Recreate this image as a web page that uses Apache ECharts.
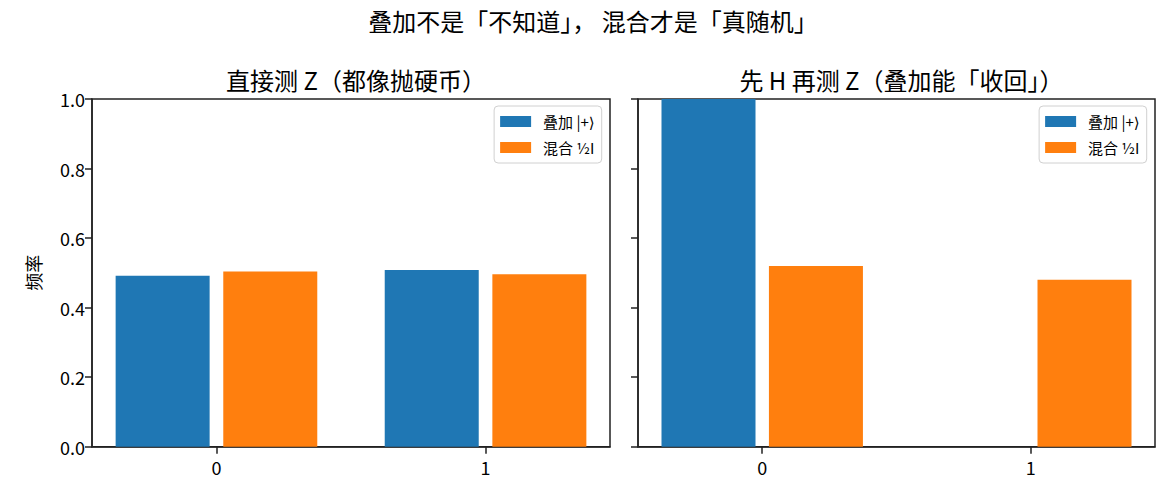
<!DOCTYPE html>
<html>
<head>
<meta charset="utf-8">
<script src="https://cdn.jsdelivr.net/npm/echarts@6/dist/echarts.min.js"></script>
<style>
  html, body { margin: 0; padding: 0; background: #fff; }
  #main { width: 1176px; height: 504px; }
</style>
</head>
<body>
<div id="main"></div>
<script>
// 数据：测量结果 0 / 1 的频率
var categories = ['0', '1'];
var seriesNames = ['叠加 |+⟩', '混合 ½I'];
var directSuper = [0.492, 0.508];   // 直接测 Z，叠加态
var directMixed = [0.504, 0.496];   // 直接测 Z，混合态
var hSuper = [1.0, 0.0];            // 先 H 再测 Z，叠加态
var hMixed = [0.52, 0.48];          // 先 H 再测 Z，混合态

var blue = '#1f77b4';
var orange = '#ff7f0e';
var axisColor = '#222';
var fontFamily = '"Noto Sans CJK SC", "DejaVu Sans", sans-serif';

window.addEventListener('load', function() {
  var chart = echarts.init(document.getElementById('main'), null, { renderer: 'svg' });

  // 柱子位置：类别下标左右各偏 0.2
  function toBars(values, shift) {
    return values.map(function(v, i) { return [i + shift, v]; });
  }

  function xAxisOf(gridIndex) {
    return {
      type: 'value',
      gridIndex: gridIndex,
      min: -0.4625,
      max: 1.4625,
      axisLine: { show: true, onZero: false, lineStyle: { color: axisColor, width: 1.5 } },
      axisTick: { show: true, length: 7, customValues: [0, 1], lineStyle: { color: axisColor, width: 1.5 } },
      axisLabel: {
        customValues: [0, 1],
        margin: 11,
        color: '#000',
        fontSize: 18,
        fontFamily: fontFamily,
        formatter: function(v) { return categories[Math.round(v)]; }
      },
      splitLine: { show: false }
    };
  }

  function yAxisOf(gridIndex, showLabel) {
    var axis = {
      type: 'value',
      gridIndex: gridIndex,
      min: 0,
      max: 1,
      interval: 0.2,
      axisLine: { show: true, onZero: false, lineStyle: { color: axisColor, width: 1.5 } },
      axisTick: { show: true, length: 7, lineStyle: { color: axisColor, width: 1.5 } },
      axisLabel: {
        show: showLabel,
        margin: 7,
        color: '#000',
        fontSize: 18,
        fontFamily: fontFamily,
        formatter: function(v) { return v.toFixed(1); }
      },
      splitLine: { show: false }
    };
    if (showLabel) {
      axis.name = '频率';
      axis.nameLocation = 'middle';
      axis.nameRotate = 90;
      axis.nameGap = 50;
      axis.nameTextStyle = { color: '#000', fontSize: 18, fontFamily: fontFamily };
    }
    return axis;
  }

  function legendOf(right) {
    return {
      orient: 'vertical',
      right: right,
      top: 106,
      data: seriesNames,
      icon: 'rect',
      itemWidth: 31,
      itemHeight: 11,
      itemGap: 11,
      padding: [8, 7, 8, 6],
      backgroundColor: 'rgba(255,255,255,0.8)',
      borderColor: '#d0d0d0',
      borderWidth: 1,
      borderRadius: 4,
      selectedMode: false,
      textStyle: {
        color: '#000',
        fontSize: 15,
        lineHeight: 14,
        fontFamily: fontFamily,
        padding: [0, 0, 0, 7]
      }
    };
  }

  function barSeries(name, values, shift, color, idx) {
    return {
      type: 'bar',
      name: name,
      xAxisIndex: idx,
      yAxisIndex: idx,
      data: toBars(values, shift),
      barWidth: 94,
      barGap: '-100%',
      itemStyle: { color: color },
      animation: false
    };
  }

  var gridBox = { show: true, borderColor: axisColor, borderWidth: 1.5, top: 99, bottom: 57.3 };
  var titleStyle = { color: '#000', fontSize: 24, fontWeight: 'normal', fontFamily: fontFamily };

  var option = {
    animation: false,
    title: [
      { text: '叠加不是「不知道」， 混合才是「真随机」', left: 588, top: 3, textAlign: 'center', textStyle: titleStyle },
      { text: '直接测 Z（都像抛硬币）', left: 351, top: 62, textAlign: 'center', textStyle: titleStyle },
      { text: '先 H 再测 Z（叠加能「收回」）', left: 896.5, top: 62, textAlign: 'center', textStyle: titleStyle }
    ],
    legend: [legendOf(574.3), legendOf(29.3)],
    grid: [
      Object.assign({ left: 92, right: 566 }, gridBox),
      Object.assign({ left: 638, right: 21 }, gridBox)
    ],
    xAxis: [xAxisOf(0), xAxisOf(1)],
    yAxis: [yAxisOf(0, true), yAxisOf(1, false)],
    series: [
      barSeries(seriesNames[0], directSuper, -0.2, blue, 0),
      barSeries(seriesNames[1], directMixed, 0.2, orange, 0),
      barSeries(seriesNames[0], hSuper, -0.2, blue, 1),
      barSeries(seriesNames[1], hMixed, 0.2, orange, 1)
    ]
  };

  chart.setOption(option);
});
</script>
</body>
</html>
